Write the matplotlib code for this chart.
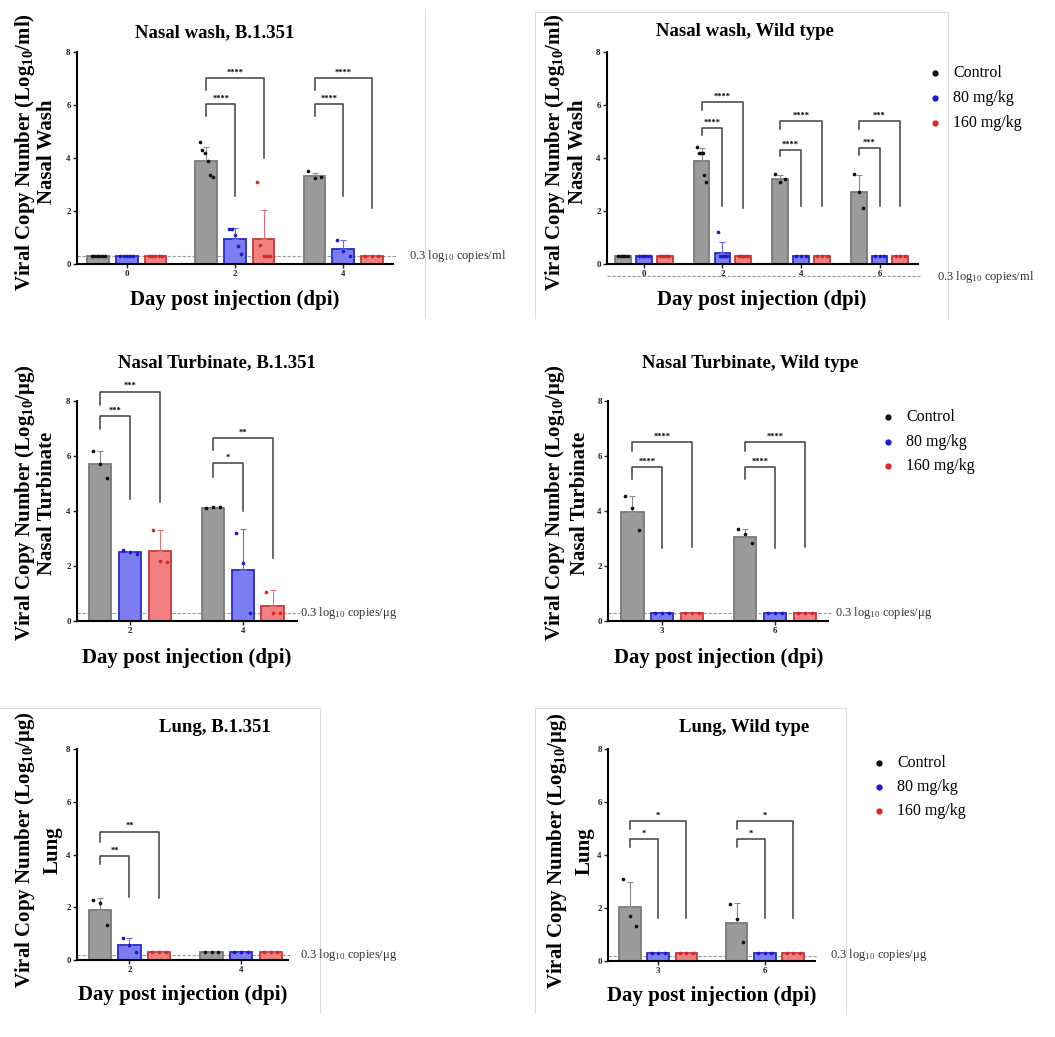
import numpy as np
import matplotlib.pyplot as plt
from matplotlib.lines import Line2D

plt.rcParams['font.family'] = ['Liberation Serif', 'DejaVu Serif']
plt.rcParams['mathtext.fontset'] = 'custom'
plt.rcParams['mathtext.rm'] = 'Liberation Serif'
plt.rcParams['mathtext.bf'] = 'Liberation Serif:bold'
plt.rcParams['mathtext.it'] = 'Liberation Serif:italic'

groups = ['Control', '80 mg/kg', '160 mg/kg']

# Nasal wash, B.1.351
nwb_days = ['0', '2', '4']
nwb_mean = [[0.3, 3.9, 3.31], [0.3, 0.94, 0.57], [0.3, 0.94, 0.3]]
nwb_sd = [[0, 0.5, 0.12], [0, 0.4, 0.35], [0, 1.1, 0]]
nwb_pts = [
    [[0.3] * 6, [4.6, 4.3, 4.2, 3.9, 3.35, 3.28], [3.5, 3.25, 3.27]],
    [[0.3] * 5, [1.32, 1.32, 1.1, 0.67, 0.38], [0.92, 0.5, 0.3]],
    [[0.3] * 5, [3.1, 0.73, 0.3, 0.3, 0.3], [0.3, 0.3, 0.3]],
]
nwb_sig = [(1, 2, 7.02, 6.58, 4.0, '****'), (1, 1, 6.04, 5.57, 2.55, '****'),
           (2, 2, 7.02, 6.58, 2.1, '****'), (2, 1, 6.04, 5.57, 2.55, '****')]

# Nasal wash, Wild type
nww_days = ['0', '2', '4', '6']
nww_mean = [[0.3, 3.87, 3.22, 2.72], [0.3, 0.42, 0.3, 0.3], [0.3, 0.3, 0.3, 0.3]]
nww_sd = [[0, 0.5, 0.15, 0.65], [0, 0.4, 0, 0], [0, 0, 0, 0]]
nww_pts = [
    [[0.3] * 5, [4.4, 4.2, 4.2, 4.2, 3.35, 3.1], [3.4, 3.1, 3.2], [3.4, 2.7, 2.1]],
    [[0.3] * 5, [1.2, 0.3, 0.3, 0.3, 0.3, 0.3], [0.3] * 3, [0.3] * 3],
    [[0.3] * 5, [0.3] * 5, [0.3] * 3, [0.3] * 3],
]
nww_sig = [(1, 2, 6.1, 5.82, 2.1, '****'), (1, 1, 5.13, 4.88, 2.18, '****'),
           (2, 2, 5.38, 5.1, 2.18, '****'), (2, 1, 4.31, 4.06, 2.18, '****'),
           (3, 2, 5.4, 5.1, 2.18, '***'), (3, 1, 4.38, 4.13, 2.18, '***')]

# Nasal Turbinate, B.1.351
ntb_days = ['2', '4']
ntb_mean = [[5.7, 4.12], [2.5, 1.85], [2.55, 0.56]]
ntb_sd = [[0.5, 0.03], [0.06, 1.5], [0.75, 0.55]]
ntb_pts = [
    [[6.2, 5.7, 5.2], [4.1, 4.15, 4.15]],
    [[2.6, 2.5, 2.45], [3.2, 2.1, 0.3]],
    [[3.3, 2.2, 2.15], [1.07, 0.3, 0.3]],
]
ntb_sig = [(0, 2, 8.34, 7.85, 4.33, '***'), (0, 1, 7.45, 7.0, 4.45, '***'),
           (1, 2, 6.64, 6.22, 2.3, '**'), (1, 1, 5.73, 5.25, 4.0, '*')]

# Nasal Turbinate, Wild type
ntw_days = ['3', '6']
ntw_mean = [[3.98, 3.07], [0.3, 0.3], [0.3, 0.3]]
ntw_sd = [[0.57, 0.26], [0, 0], [0, 0]]
ntw_pts = [
    [[4.55, 4.1, 3.3], [3.33, 3.15, 2.82]],
    [[0.3] * 3, [0.3] * 3],
    [[0.3] * 3, [0.3] * 3],
]
ntw_sig = [(0, 2, 6.52, 6.2, 2.7, '****'), (0, 1, 5.6, 5.15, 2.64, '****'),
           (1, 2, 6.52, 6.2, 2.7, '****'), (1, 1, 5.6, 5.15, 2.64, '****')]

# Lung, B.1.351
lb_days = ['2', '4']
lb_mean = [[1.9, 0.3], [0.57, 0.3], [0.3, 0.3]]
lb_sd = [[0.45, 0], [0.28, 0], [0, 0]]
lb_pts = [
    [[2.27, 2.15, 1.33], [0.3] * 3],
    [[0.82, 0.58, 0.3], [0.3] * 3],
    [[0.3] * 3, [0.3] * 3],
]
lb_sig = [(0, 2, 4.87, 4.49, 2.34, '**'), (0, 1, 3.94, 3.64, 2.38, '**')]

# Lung, Wild type
lw_days = ['3', '6']
lw_mean = [[2.02, 1.45], [0.3, 0.3], [0.3, 0.3]]
lw_sd = [[0.95, 0.72], [0, 0], [0, 0]]
lw_pts = [
    [[3.08, 1.7, 1.32], [2.14, 1.6, 0.7]],
    [[0.3] * 3, [0.3] * 3],
    [[0.3] * 3, [0.3] * 3],
]
lw_sig = [(0, 2, 5.28, 5.0, 1.64, '*'), (0, 1, 4.59, 4.31, 1.64, '*'),
          (1, 2, 5.28, 5.0, 1.64, '*'), (1, 1, 4.59, 4.31, 1.64, '*')]

face = ['#9b9b9b', '#7d7df2', '#f28080']
edge = ['#7a7a7a', '#2a2ac8', '#c83838']
errc = ['#8a8a8a', '#6a6ae0', '#e07070']
dotc = ['#111111', '#1a1ad0', '#d82828']
offs = [-0.265, 0, 0.265]

W, H = 1055, 1037
fig = plt.figure(figsize=(W / 100, H / 100), dpi=100)

TITLE = 13.5
LAB = 15


def px_axes(left, right, top, bottom):
    return fig.add_axes([left / W, 1 - bottom / H, (right - left) / W, (bottom - top) / H])


def ftext(x, y, s, **kw):
    fig.text(x / W, 1 - y / H, s, **kw)


def fline(xs, ys, color='#dddddd', lw=0.8):
    fig.add_artist(Line2D([x / W for x in xs], [1 - y / H for y in ys], color=color, lw=lw))


def draw_panel(box, days, means, sds, pts, sig, xlim, ref_y):
    ax = px_axes(*box)
    pos = np.arange(len(days))
    for s in range(3):
        x = pos + offs[s]
        ax.bar(x, means[s], width=0.2, color=face[s], edgecolor=edge[s], lw=1.3, zorder=2)
        ax.errorbar(x, means[s], yerr=[np.zeros(len(days)), sds[s]], fmt='none',
                    ecolor=errc[s], elinewidth=0.8, capsize=2.5, capthick=0.8, zorder=3)
        for i, p in enumerate(pts[s]):
            n = len(p)
            jit = np.linspace(-0.06, 0.06, n) if n > 1 else np.zeros(1)
            ax.scatter(x[i] + jit, p, s=7, color=dotc[s], zorder=4, lw=0)
    for g, t, top, lb, rb, lab in sig:
        xl = pos[g] + offs[0]
        xr = pos[g] + offs[t]
        ax.plot([xl, xl, xr, xr], [lb, top, top, rb], color='#404040', lw=1.1,
                clip_on=False, zorder=5)
        ax.text((xl + xr) / 2, top + 0.05, lab, ha='center', va='bottom',
                fontsize=6, fontweight='bold', clip_on=False)
    ax.plot([xlim[0], xlim[1] + 0.03], [ref_y, ref_y], color='#9a9a9a', lw=0.8,
            ls=(0, (3, 1.5)), clip_on=False, zorder=1)
    ax.set_xlim(xlim)
    ax.set_ylim(0, 8)
    ax.set_yticks([0, 2, 4, 6, 8])
    ax.set_xticks(pos)
    ax.set_xticklabels(days)
    ax.spines[['top', 'right']].set_visible(False)
    ax.spines['left'].set_linewidth(1.5)
    ax.spines['bottom'].set_linewidth(1.5)
    ax.tick_params(labelsize=6.5, length=3, width=1, pad=1.5, colors='#222222')
    for lab in ax.get_xticklabels() + ax.get_yticklabels():
        lab.set_fontweight('bold')
    return ax


def legend(x, y0, dy):
    for k, g in enumerate(groups):
        y = y0 + k * dy
        fig.add_artist(Line2D([x / W], [1 - y / H], marker='o', ms=3.5, color=dotc[k], lw=0))
        ftext(x + 18, y, g, fontsize=11.5, va='center', ha='left')


def labels(title, tx, ty, ylab, y1x, y2x, yy, sub, xx, xy, rx, ry):
    ftext(tx, ty, title, fontsize=TITLE, fontweight='bold', ha='center', va='center')
    ftext(y1x, yy, ylab, fontsize=LAB, fontweight='bold', rotation=90, ha='center', va='center')
    ftext(y2x, yy, sub, fontsize=LAB, fontweight='bold', rotation=90, ha='center', va='center')
    ftext(xx, xy, 'Day post injection (dpi)', fontsize=LAB, fontweight='bold', ha='center', va='center')
    unit = ylab.split('/')[-1].rstrip(')')
    ftext(rx, ry, '0.3 log$_{10}$ copies/' + unit, fontsize=9, ha='left', va='center', color='#333333')


ylab_ml = 'Viral Copy Number (Log$_{\\mathbf{10}}$/ml)'
ylab_ug = 'Viral Copy Number (Log$_{\\mathbf{10}}$/μg)'

# Panel 1
draw_panel((77, 393, 52, 264), nwb_days, nwb_mean, nwb_sd, nwb_pts, nwb_sig, (-0.46, 2.46), 0.3)
labels('Nasal wash, B.1.351', 215, 33, ylab_ml, 25, 47, 152, 'Nasal Wash', 235, 300, 409, 256)

# Panel 2
draw_panel((607, 918, 52, 264), nww_days, nww_mean, nww_sd, nww_pts, nww_sig, (-0.47, 3.49), -0.47)
labels('Nasal wash, Wild type', 745, 32, ylab_ml, 555, 578, 152, 'Nasal Wash', 762, 300, 937, 277)
legend(935, 73, 25)

# Panel 3
draw_panel((77, 297, 401, 621), ntb_days, ntb_mean, ntb_sd, ntb_pts, ntb_sig, (-0.47, 1.48), 0.3)
labels('Nasal Turbinate, B.1.351', 217, 363, ylab_ug, 25, 47, 503, 'Nasal Turbinate', 187, 658, 300, 613)

# Panel 4
draw_panel((608, 828, 401, 621), ntw_days, ntw_mean, ntw_sd, ntw_pts, ntw_sig, (-0.48, 1.47), 0.3)
labels('Nasal Turbinate, Wild type', 750, 363, ylab_ug, 555, 580, 503, 'Nasal Turbinate', 719, 658, 835, 613)
legend(888, 417, 24.5)

# Panel 5
draw_panel((77, 288, 749, 960), lb_days, lb_mean, lb_sd, lb_pts, lb_sig, (-0.47, 1.42), 0.18)
labels('Lung, B.1.351', 215, 727, ylab_ug, 25, 53, 850, 'Lung', 183, 995, 300, 955)

# Panel 6
draw_panel((608, 815, 749, 961), lw_days, lw_mean, lw_sd, lw_pts, lw_sig, (-0.47, 1.47), 0.2)
labels('Lung, Wild type', 744, 727, ylab_ug, 557, 585, 851, 'Lung', 712, 996, 830, 955)
legend(879, 763, 24)

# thin panel frames
fline([425, 425], [10, 318])
fline([535, 948, 948], [12, 12, 318])
fline([535, 535], [12, 318])
fline([0, 320, 320], [708, 708, 1013])
fline([535, 846, 846], [708, 708, 1013])
fline([535, 535], [708, 1013])

fig.savefig('out.png', dpi=100, facecolor='white')
